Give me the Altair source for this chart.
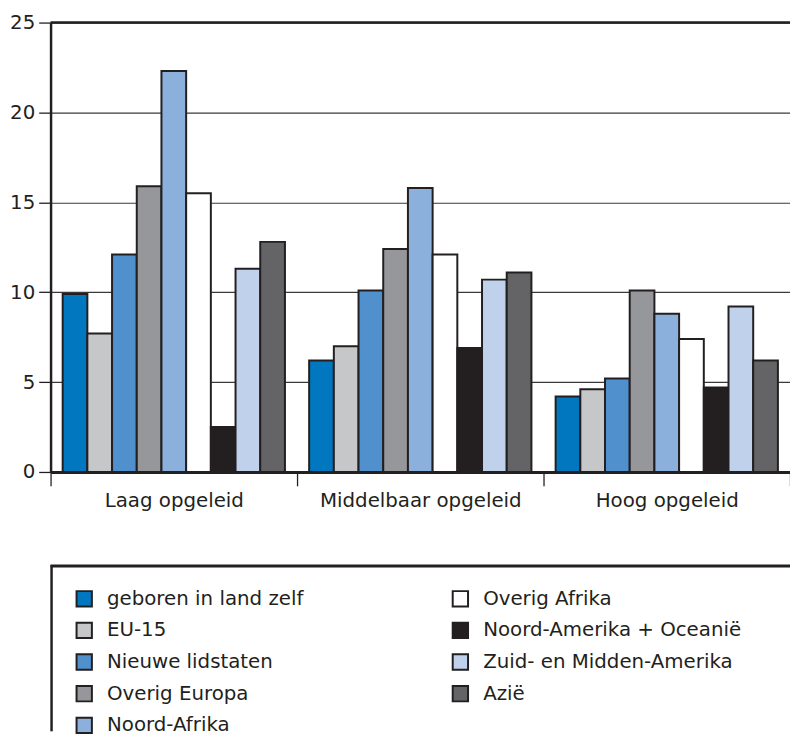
import altair as alt
import pandas as pd

categories = ["Laag opgeleid", "Middelbaar opgeleid", "Hoog opgeleid"]
series = [
    "geboren in land zelf",
    "EU-15",
    "Nieuwe lidstaten",
    "Overig Europa",
    "Noord-Afrika",
    "Overig Afrika",
    "Noord-Amerika + Oceanië",
    "Zuid- en Midden-Amerika",
    "Azië",
]
colors = ["#0077be", "#c6c7c9", "#5090cd", "#96979b", "#8bb0dc",
          "#ffffff", "#231f20", "#c0d2eb", "#646466"]

laag = [9.9, 7.7, 12.1, 15.9, 22.3, 15.5, 2.5, 11.3, 12.8]
middelbaar = [6.2, 7.0, 10.1, 12.4, 15.8, 12.1, 6.9, 10.7, 11.1]
hoog = [4.2, 4.6, 5.2, 10.1, 8.8, 7.4, 4.7, 9.2, 6.2]

rows = []
for cat, vals in zip(categories, [laag, middelbaar, hoog]):
    for s, v in zip(series, vals):
        rows.append({"opleiding": cat, "herkomst": s, "waarde": v})
df = pd.DataFrame(rows)

FONT = "DejaVu Sans"
INK = "#231f20"
W, H = 747, 454
PAD_BOTTOM = 262

bars = alt.Chart(df).mark_bar(stroke=INK, strokeWidth=2).encode(
    x=alt.X("opleiding:N", sort=categories,
            scale=alt.Scale(paddingInner=0, paddingOuter=0),
            axis=alt.Axis(title=None, labelAngle=0, labelFont=FONT, labelFontSize=20,
                          labelColor=INK, labelPadding=5, labelLimit=400,
                          tickBand="extent",
                          tickSize=14, tickColor=INK, tickWidth=1.3,
                          domainColor=INK, domainWidth=3, grid=False)),
    xOffset=alt.XOffset("herkomst:N", sort=series,
                        scale=alt.Scale(paddingInner=0, paddingOuter=0.49)),
    y=alt.Y("waarde:Q",
            scale=alt.Scale(domain=[0, 25], nice=False),
            axis=alt.Axis(title=None, values=[0, 5, 10, 15, 20, 25],
                          labelFont=FONT, labelFontSize=20, labelColor=INK,
                          labelPadding=4, tickSize=12, tickColor=INK, tickWidth=1.3,
                          domainColor=INK, domainWidth=2.5,
                          grid=True, gridColor="#3a3a3a", gridWidth=1.2)),
    color=alt.Color("herkomst:N",
                    scale=alt.Scale(domain=series, range=colors),
                    legend=alt.Legend(
                        title=None, orient="none", legendX=1, legendY=549,
                        columns=2, direction="vertical",
                        symbolType="square", symbolSize=240,
                        symbolStrokeColor=INK, symbolStrokeWidth=2,
                        symbolOpacity=1,
                        labelFont=FONT, labelFontSize=20, labelColor=INK,
                        labelLimit=1000,
                        labelOffset=13, rowPadding=8, columnPadding=146,
                        padding=23,
                    )),
)

top_line = alt.Chart(pd.DataFrame({"y": [25]})).mark_rule(
    color=INK, strokeWidth=2.5
).encode(y="y:Q")

# legend frame: top and left edges (the rest runs off the page, as in the original)
frame = pd.DataFrame({"k": [0]})
legend_top = alt.Chart(frame).mark_rule(color=INK, strokeWidth=3).encode(
    x=alt.value(0), x2=alt.value(W), y=alt.value(549))
legend_left = alt.Chart(frame).mark_rule(color=INK, strokeWidth=2.5).encode(
    x=alt.value(1), y=alt.value(548), y2=alt.value(H + PAD_BOTTOM))

chart = alt.layer(bars, top_line, legend_top, legend_left).properties(
    width=W, height=H,
    autosize=alt.AutoSizeParams(type="none"),
    padding={"left": 43, "top": 11, "right": 0, "bottom": PAD_BOTTOM},
).configure_view(strokeWidth=0)

chart.save("out.html", embed_options={"renderer": "svg", "actions": False})
